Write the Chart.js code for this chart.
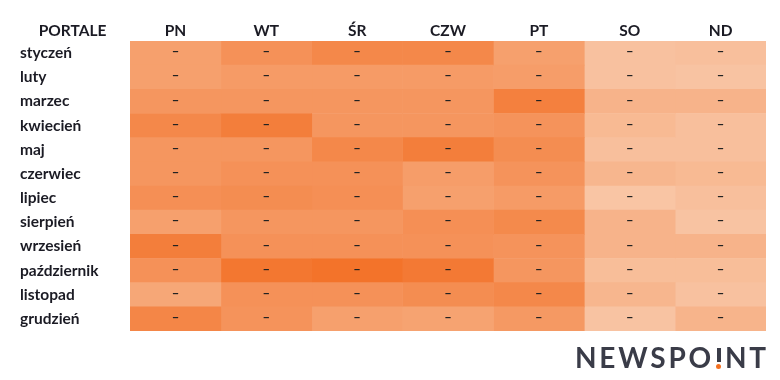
<!DOCTYPE html>
<html><head><meta charset="utf-8">
<script src="https://cdn.jsdelivr.net/npm/chart.js@4/dist/chart.umd.min.js"></script>
<style>
html,body{margin:0;padding:0;background:#fff;}
#wrap{position:relative;width:780px;height:380px;}
#logo{position:absolute;left:575px;top:340px;font-family:Lato,"Open Sans",sans-serif;font-size:28px;font-weight:700;letter-spacing:2.8px;color:#3a3c48;line-height:34px;white-space:nowrap;}
#logo .i{display:inline-block;position:relative;width:7px;height:21px;margin:0 3px 0 1px;vertical-align:-1px;}
#logo .i:before{content:"";position:absolute;left:1.5px;top:0;width:4px;height:14px;background:#3a3c48;}
#logo .i:after{content:"";position:absolute;left:1px;top:16px;width:5px;height:5px;border-radius:50%;background:#f37021;}
</style></head>
<body><div id="wrap"><canvas id="c" width="780" height="380"></canvas>
<div id="logo">NEWSPO<span class="i"></span>NT</div></div>
<script>
const cornerLabel = "PORTALE";
const months = ["styczeń","luty","marzec","kwiecień","maj","czerwiec","lipiec","sierpień","wrzesień","październik","listopad","grudzień"];
const days = ["PN","WT","ŚR","CZW","PT","SO","ND"];
const cellText = "–";
// intensity per day (column), one value per month (row), 0-100
const valPN  = [45,45,55,70,55,55,62,45,80,60,38,72];
const valWT  = [60,50,55,80,55,60,65,55,60,88,60,58];
const valSR  = [70,50,55,55,70,60,62,55,60,92,60,45];
const valCZW = [70,50,55,55,80,48,45,62,60,85,65,42];
const valPT  = [45,48,78,58,65,58,50,68,58,55,70,52];
const valSO  = [10,10,25,18,12,22, 6,25,25,14,22, 8];
const valND  = [12, 8,25,12,12,18,12, 8,25,14,10,24];
const series = [valPN,valWT,valSR,valCZW,valPT,valSO,valND];

const lo=[249,203,173], hi=[242,107,31];
function col(v){const t=v/100;return 'rgb('+lo.map((a,i)=>Math.round(a+(hi[i]-a)*t)).join(',')+')';}

const datasets = days.map((d,di)=>({
  label:d,
  data: months.map(()=>1),
  backgroundColor: series[di].map(col),
  borderWidth:0,
  barPercentage:1,
  categoryPercentage:1,
  stack:'s'
}));

const font = {family:'Lato, "Open Sans", sans-serif', size:15.5, weight:'bold'};

const overlay = {
  id:'overlay',
  afterDatasetsDraw(chart){
    const ctx=chart.ctx;
    ctx.save();
    ctx.fillStyle='#222';
    ctx.font='bold 13px Lato, sans-serif';
    ctx.textAlign='center';ctx.textBaseline='middle';
    chart.data.datasets.forEach((ds,i)=>{
      chart.getDatasetMeta(i).data.forEach(el=>{
        const x=(el.x+el.base)/2;
        ctx.fillText(cellText,x,el.y-1);
      });
    });
    ctx.font='bold 15.5px Lato, sans-serif';
    ctx.fillStyle='#1b1b24';
    ctx.textAlign='center';
    ctx.textBaseline='alphabetic';
    ctx.fillText(cornerLabel,72.5,36);
    ctx.restore();
  }
};

new Chart(document.getElementById('c'),{
  type:'bar',
  data:{labels:months,datasets},
  options:{
    indexAxis:'y',
    responsive:false,
    animation:false,
    layout:{padding:{left:20,right:14,top:0,bottom:49}},
    plugins:{legend:{display:false},tooltip:{enabled:false}},
    scales:{
      x:{type:'linear',min:0,max:7,stacked:true,display:false},
      x2:{type:'category',labels:days,position:'top',offset:true,
          grid:{display:false,drawTicks:false},border:{display:false},
          ticks:{color:'#1b1b24',font,padding:1,maxRotation:0},
          afterFit(s){s.height=41;}},
      y:{type:'category',stacked:true,
          grid:{display:false,drawTicks:false},border:{display:false},
          ticks:{color:'#1b1b24',font,crossAlign:'far',padding:0},
          afterFit(s){s.width=110;}}
    }
  },
  plugins:[overlay]
});
</script>
</body></html>
